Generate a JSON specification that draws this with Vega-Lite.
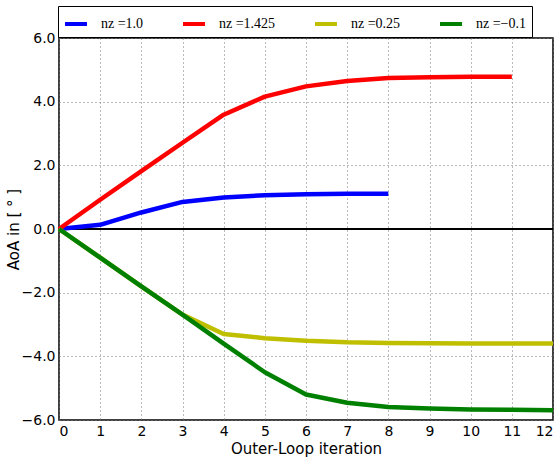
{
  "$schema": "https://vega.github.io/schema/vega-lite/v6.json",
  "width": 494,
  "height": 382,
  "autosize": {"type": "none"},
  "padding": {"left": 59, "top": 38, "right": 7, "bottom": 41},
  "config": {
    "font": "DejaVu Sans",
    "view": {"stroke": "black", "strokeWidth": 1.5}
  },
  "data": {"values": [
    {"it": 0, "s": "A", "aoa": 0}, {"it": 1, "s": "A", "aoa": 0.13}, {"it": 2, "s": "A", "aoa": 0.52}, {"it": 3, "s": "A", "aoa": 0.85}, {"it": 4, "s": "A", "aoa": 0.99}, {"it": 5, "s": "A", "aoa": 1.06}, {"it": 6, "s": "A", "aoa": 1.09}, {"it": 7, "s": "A", "aoa": 1.11}, {"it": 8, "s": "A", "aoa": 1.11},
    {"it": 0, "s": "B", "aoa": 0}, {"it": 1, "s": "B", "aoa": 0.92}, {"it": 2, "s": "B", "aoa": 1.82}, {"it": 3, "s": "B", "aoa": 2.71}, {"it": 4, "s": "B", "aoa": 3.59}, {"it": 5, "s": "B", "aoa": 4.16}, {"it": 6, "s": "B", "aoa": 4.48}, {"it": 7, "s": "B", "aoa": 4.65}, {"it": 8, "s": "B", "aoa": 4.74}, {"it": 9, "s": "B", "aoa": 4.77}, {"it": 10, "s": "B", "aoa": 4.78}, {"it": 11, "s": "B", "aoa": 4.78},
    {"it": 0, "s": "C", "aoa": 0}, {"it": 1, "s": "C", "aoa": -0.9}, {"it": 2, "s": "C", "aoa": -1.8}, {"it": 3, "s": "C", "aoa": -2.69}, {"it": 4, "s": "C", "aoa": -3.3}, {"it": 5, "s": "C", "aoa": -3.43}, {"it": 6, "s": "C", "aoa": -3.51}, {"it": 7, "s": "C", "aoa": -3.56}, {"it": 8, "s": "C", "aoa": -3.58}, {"it": 9, "s": "C", "aoa": -3.59}, {"it": 10, "s": "C", "aoa": -3.6}, {"it": 11, "s": "C", "aoa": -3.6}, {"it": 12, "s": "C", "aoa": -3.6},
    {"it": 0, "s": "D", "aoa": 0}, {"it": 1, "s": "D", "aoa": -0.9}, {"it": 2, "s": "D", "aoa": -1.8}, {"it": 3, "s": "D", "aoa": -2.69}, {"it": 4, "s": "D", "aoa": -3.6}, {"it": 5, "s": "D", "aoa": -4.5}, {"it": 6, "s": "D", "aoa": -5.2}, {"it": 7, "s": "D", "aoa": -5.46}, {"it": 8, "s": "D", "aoa": -5.59}, {"it": 9, "s": "D", "aoa": -5.64}, {"it": 10, "s": "D", "aoa": -5.67}, {"it": 11, "s": "D", "aoa": -5.68}, {"it": 12, "s": "D", "aoa": -5.69}
  ]},
  "layer": [
    {
      "data": {"values": [{"z": 0}]},
      "mark": {"type": "rule", "color": "black", "strokeWidth": 2},
      "encoding": {"y": {"field": "z", "type": "quantitative"}}
    },
    {
      "mark": {"type": "line", "strokeWidth": 4.5, "strokeCap": "butt", "strokeJoin": "round"},
      "encoding": {
        "x": {"field": "it", "type": "quantitative", "scale": {"domain": [0, 12], "nice": false}, "axis": {"values": [0,1,2,3,4,5,6,7,8,9,10,11,12], "title": "Outer-Loop iteration", "ticks": false, "labelPadding": 4, "titlePadding": 3, "domain": false, "labelColor": "black", "titleColor": "black", "labelFontSize": 14, "titleFontSize": 15, "titleFontWeight": "normal", "gridColor": "#777777", "gridDash": [1, 3], "gridWidth": 1, "gridOpacity": 1}},
        "y": {"field": "aoa", "type": "quantitative", "scale": {"domain": [-6, 6], "nice": false}, "axis": {"values": [-6,-4,-2,0,2,4,6], "format": ".1f", "title": "AoA in [ \u00b0 ]", "ticks": false, "labelPadding": 4, "titlePadding": 0, "domain": false, "labelColor": "black", "titleColor": "black", "labelFontSize": 14, "titleFontSize": 15, "titleFontWeight": "normal", "gridColor": "#777777", "gridDash": [1, 3], "gridWidth": 1, "gridOpacity": 1}},
        "color": {"field": "s", "type": "nominal", "scale": {"domain": ["A", "B", "C", "D"], "range": ["#0000ff", "#ff0000", "#bfbf00", "#008000"]},
          "legend": {"orient": "none", "legendX": -1, "legendY": -32, "direction": "horizontal", "title": null, "strokeColor": "black", "padding": 5, "symbolType": "stroke", "symbolSize": 484, "symbolStrokeWidth": 4, "labelOffset": 12, "columnPadding": 31, "labelFont": "Liberation Serif", "labelFontSize": 14, "labelColor": "black",
            "labelExpr": "datum.label == 'A' ? 'nz =1.0' : datum.label == 'B' ? 'nz =1.425' : datum.label == 'C' ? 'nz =0.25' : 'nz =\u22120.1'"}}
      }
    }
  ]
}
